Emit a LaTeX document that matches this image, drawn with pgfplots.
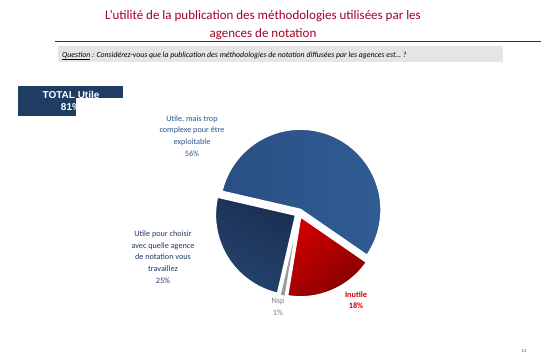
\documentclass[border=0pt]{standalone}
\usepackage{pgfplots}
\usepackage{pgfplotstable}
\pgfplotsset{compat=1.18}
\usepackage{fontspec}
\setmainfont{Carlito}
\newfontfamily\arialfont{Liberation Sans}
\definecolor{titlered}{HTML}{A30026}
\definecolor{pieblue}{HTML}{294F83}
\definecolor{pieblueL}{HTML}{305C94}
\definecolor{pienavy}{HTML}{192F52}
\definecolor{pienavyL}{HTML}{26446F}
\definecolor{piered}{HTML}{D00000}
\definecolor{pieredD}{HTML}{800000}
\definecolor{piegray}{HTML}{9A9A9A}
\definecolor{boxnavy}{HTML}{1F3D63}
\definecolor{lblblue}{HTML}{2A568C}
\definecolor{lblnavy}{HTML}{1F3864}

\pgfplotstableread{
label value
UtileComplexe 56
Inutile 18
Nsp 1
UtileChoisir 25
}\piedata

% cumulative angles (clockwise from 167 deg)
\def\cum{167}
\pgfplotstableforeachcolumnelement{value}\of\piedata\as\v{%
  \pgfmathsetmacro\a{\cum}%
  \pgfmathsetmacro\b{\cum-3.6*\v}%
  \pgfmathsetmacro\m{(\a+\b)/2}%
  \expandafter\xdef\csname sa\pgfplotstablerow\endcsname{\a}%
  \expandafter\xdef\csname sb\pgfplotstablerow\endcsname{\b}%
  \expandafter\xdef\csname sm\pgfplotstablerow\endcsname{\m}%
  \xdef\cum{\b}%
}
\def\SA#1{\csname sa#1\endcsname}
\def\SB#1{\csname sb#1\endcsname}
\def\SM#1{\csname sm#1\endcsname}

\begin{document}
\begin{tikzpicture}[x=1bp,y=1bp]
\path[use as bounding box] (0,0) rectangle (541,360);

% title
\node[anchor=base, text=titlered, font=\fontsize{13bp}{15bp}\selectfont] at (263,360-19.5) {L’utilité de la publication des méthodologies utilisées par les};
\node[anchor=base, text=titlered, font=\fontsize{13bp}{15bp}\selectfont] at (263,360-37) {agences de notation};
\draw[titlered, line width=0.9bp] (55,360-41) -- (541,360-41);
\fill[black!10] (58,360-46) rectangle (503,360-62);
\node[anchor=base west, inner sep=0pt, font=\fontsize{7.8bp}{8bp}\selectfont\itshape] at (62,360-57) {\underline{Question} : Considérez-vous que la publication des méthodologies de notation diffusées par les agences est\dots\ ?};

% TOTAL box
\fill[boxnavy] (18,360-86) rectangle (123,360-116);
\node[text=white, font=\arialfont\bfseries\fontsize{10bp}{12bp}\selectfont] at (71,360-95) {TOTAL Utile};
\node[text=white, font=\arialfont\bfseries\fontsize{10bp}{12bp}\selectfont] at (71,360-107) {81\%};
\fill[white] (76,360-98) rectangle (124,360-117);

% pie
\begin{axis}[at={(299,360-213)}, anchor=center, hide axis, scale only axis,
  width=200bp, height=200bp, xmin=-100, xmax=100, ymin=-100, ymax=100, clip=false]
\shadedraw[left color=pieblue, right color=pieblueL, draw=white, line width=2.2bp]
  ([shift={(\SM{0}:3.5bp)}]axis cs:0,0) -- ++(\SA{0}:81bp) arc[start angle=\SA{0}, end angle=\SB{0}, radius=81bp] -- cycle;
\shadedraw[top color=piered, bottom color=pieredD, shading angle=40, draw=white, line width=2.2bp]
  ([shift={(\SM{1}:3.5bp)}]axis cs:0,0) -- ++(\SA{1}:81bp) arc[start angle=\SA{1}, end angle=\SB{1}, radius=81bp] -- cycle;
\filldraw[fill=piegray, draw=white, line width=1.2bp]
  ([shift={(\SM{2}:3.5bp)}]axis cs:0,0) -- ++(\SA{2}:81bp) arc[start angle=\SA{2}, end angle=\SB{2}, radius=81bp] -- cycle;
\shadedraw[top color=pienavy, bottom color=pienavyL, shading angle=-30, draw=white, line width=2.2bp]
  ([shift={(\SM{3}:3.5bp)}]axis cs:0,0) -- ++(\SA{3}:81bp) arc[start angle=\SA{3}, end angle=\SB{3}, radius=81bp] -- cycle;
\end{axis}

% labels
\node[align=center, text=lblblue, font=\fontsize{8.2bp}{11.7bp}\selectfont] at (192,360-136) {Utile, mais trop\\complexe pour être\\exploitable\\56\%};
\node[align=center, text=lblnavy, font=\fontsize{8.2bp}{11.7bp}\selectfont] at (163,360-257) {Utile pour choisir\\avec quelle agence\\de notation vous\\travaillez\\25\%};
\node[align=center, text=piered, font=\bfseries\fontsize{8.2bp}{11.7bp}\selectfont] at (356,360-300) {Inutile\\18\%};
\node[align=center, text=gray, font=\fontsize{8.2bp}{11.7bp}\selectfont] at (278,360-307) {Nsp\\1\%};

\node[font=\fontsize{4.5bp}{5bp}\selectfont, text=lblnavy] at (524,360-351) {13};
\end{tikzpicture}
\end{document}
